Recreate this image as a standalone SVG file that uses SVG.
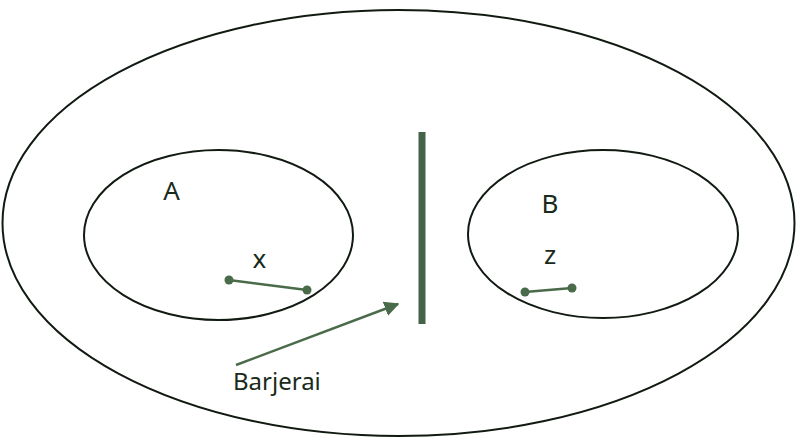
<svg xmlns="http://www.w3.org/2000/svg" width="797" height="441" viewBox="0 0 797 441">
<defs>
<style>
.ring{fill:none;stroke:#111a11;stroke-width:2}
.seg{stroke:#4a6b4a;stroke-width:2.5}
.dot{fill:#4a6b4a}
.lbl{font-family:"Noto Sans","Open Sans",sans-serif;font-size:26px;fill:#1a2a1a}
.cap{font-size:24px}
</style>
<marker id="ah" viewBox="0 0 10 10" refX="9" refY="5" markerWidth="6" markerHeight="6" orient="auto" markerUnits="strokeWidth">
<path d="M0,0 L10,5 L0,10 z" fill="#4a6b4a"/>
</marker>
</defs>
<g id="outer"><ellipse class="ring" cx="398.5" cy="223" rx="396" ry="213"/></g>
<g id="nodeA"><ellipse class="ring" cx="218.5" cy="235" rx="134.5" ry="85"/><text class="lbl" x="171.5" y="200" text-anchor="middle">A</text></g>
<g id="nodeB"><ellipse class="ring" cx="603" cy="234" rx="135" ry="84"/><text class="lbl" x="550" y="213" text-anchor="middle">B</text></g>
<g id="barrier"><line x1="422" y1="132" x2="422" y2="324" stroke="#44634a" stroke-width="7"/></g>
<g id="segX"><line class="seg" x1="229" y1="280" x2="307" y2="290"/><circle class="dot" cx="229" cy="280" r="4.5"/><circle class="dot" cx="307" cy="290" r="4.5"/><text class="lbl" x="259.5" y="268" text-anchor="middle">x</text></g>
<g id="segZ"><line class="seg" x1="525" y1="292" x2="572" y2="288"/><circle class="dot" cx="525" cy="292" r="4.5"/><circle class="dot" cx="572" cy="288" r="4.5"/><text class="lbl" x="550" y="264" text-anchor="middle">z</text></g>
<g id="connectors"><line x1="236" y1="365" x2="398" y2="304" stroke="#4a6b4a" stroke-width="2.5" marker-end="url(#ah)"/></g>
<g id="label"><text class="lbl cap" x="233" y="390">Barjerai</text></g>
</svg>
